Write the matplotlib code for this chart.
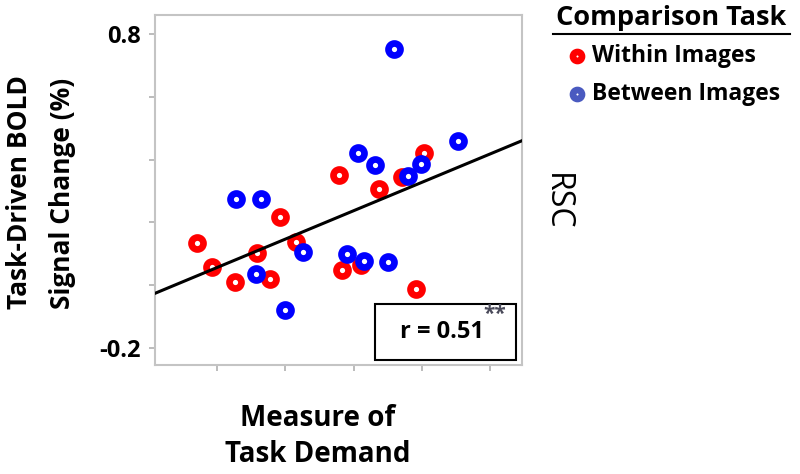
import numpy as np
import matplotlib.pyplot as plt
from matplotlib.lines import Line2D
from matplotlib.patches import Rectangle

plt.rcParams['font.family'] = ['Open Sans', 'DejaVu Sans']

# task demand (arbitrary units) and BOLD change (%)
within_x = [0.70, 0.92, 1.27, 1.58, 1.77, 1.92, 2.15, 2.79, 2.83, 3.11, 3.37, 3.71, 4.03, 3.92]
within_y = [0.133, 0.059, 0.011, 0.104, 0.019, 0.218, 0.139, 0.351, 0.048, 0.064, 0.305, 0.344, 0.420, -0.013]

between_x = [1.28, 1.65, 1.57, 1.99, 2.26, 2.90, 3.16, 3.50, 3.07, 3.32, 3.59, 3.80, 3.99, 4.53]
between_y = [0.275, 0.274, 0.035, -0.079, 0.107, 0.099, 0.077, 0.075, 0.420, 0.383, 0.752, 0.346, 0.386, 0.459]

fit_slope = 0.0903
fit_intercept = -0.034
r_text = 'r = 0.51'

y_ticks = [-0.2, 0.0, 0.2, 0.4, 0.6, 0.8]
y_ticklabels = ['-0.2', '', '', '', '', '0.8']
x_ticks = [1, 2, 3, 4, 5]

fig = plt.figure(figsize=(8, 4.74), dpi=100)
ax = fig.add_axes([155 / 800, 109 / 474, 367 / 800, 350 / 474])

ring = dict(s=75, facecolors='white', linewidths=4.8, zorder=3)
ax.scatter(within_x, within_y, edgecolors='#ff0000', label='Within Images', **ring)
ax.scatter(between_x, between_y, edgecolors='#0000ff', label='Between Images', **ring)

xlim = (0.09, 5.47)
xs = np.array(xlim)
ax.plot(xs, fit_slope * xs + fit_intercept, color='black', lw=2.2, zorder=4)

ax.set_xlim(*xlim)
ax.set_ylim(-0.254, 0.86)
ax.set_xticks(x_ticks)
ax.set_xticklabels([])
ax.set_yticks(y_ticks)
ax.set_yticklabels(y_ticklabels, fontsize=17, fontweight='bold')
ax.tick_params(colors='#b0b0b0', length=4, width=1.2, labelcolor='black', pad=6)
for sp in ax.spines.values():
    sp.set_color('#c4c4c4')
    sp.set_linewidth(1.5)

# axis titles
fig.text(20 / 800, 1 - 192 / 474, 'Task-Driven BOLD', rotation=90, ha='center', va='center',
         fontsize=19, fontweight='bold')
fig.text(62 / 800, 1 - 193 / 474, 'Signal Change (%)', rotation=90, ha='center', va='center',
         fontsize=19, fontweight='bold')
fig.text(318 / 800, 1 - 418 / 474, 'Measure of', ha='center', va='center',
         fontsize=20, fontweight='bold')
fig.text(318 / 800, 1 - 455 / 474, 'Task Demand', ha='center', va='center',
         fontsize=20, fontweight='bold')
fig.text(556 / 800, 1 - 202 / 474, 'RSC', rotation=-90, ha='center', va='center', fontsize=23)

# correlation box
box = Rectangle((375 / 800, 1 - 360 / 474), 141 / 800, 56 / 474, transform=fig.transFigure,
                facecolor='white', edgecolor='black', lw=1.5, zorder=5)
fig.add_artist(box)
fig.text(442 / 800, 1 - 332 / 474, r_text, ha='center', va='center', fontsize=17,
         fontweight='bold', zorder=6)
fig.text(495 / 800, 1 - 314 / 474, '**', ha='center', va='center', fontsize=15,
         fontweight='bold', color='#4a4a5a', zorder=6)

# legend
fig.text(671 / 800, 1 - 18 / 474, 'Comparison Task', ha='center', va='center',
         fontsize=19.5, fontweight='bold')
fig.add_artist(Line2D([553 / 800, 790 / 800], [1 - 34 / 474, 1 - 34 / 474],
                      transform=fig.transFigure, color='black', lw=1.5))
leg = ax.legend(loc='upper left', bbox_to_anchor=(566 / 800, 1 - 44 / 474),
                bbox_transform=fig.transFigure, frameon=False, fontsize=16.5,
                handletextpad=0.15, labelspacing=0.62, borderaxespad=0, borderpad=0,
                handlelength=1.0, markerscale=0.75)
leg.legend_handles[1].set_edgecolor('#4a5ac0')
for t in leg.get_texts():
    t.set_fontweight('bold')

fig.savefig('out.png', dpi=100)
